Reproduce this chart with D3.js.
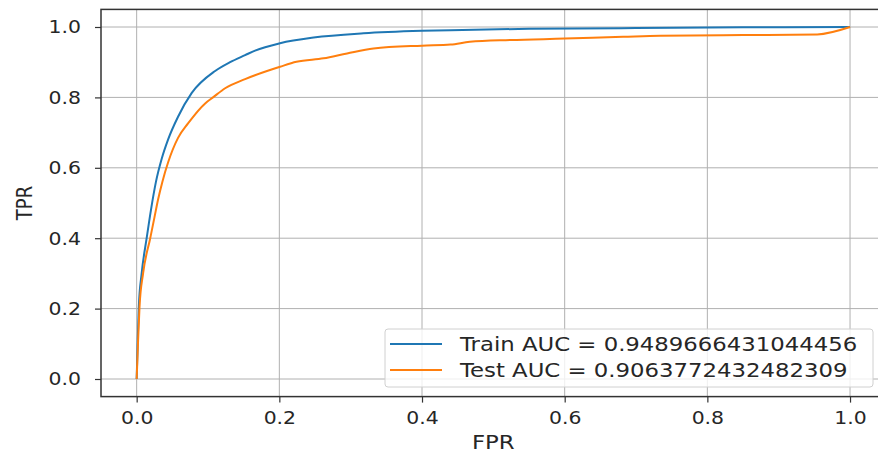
<!DOCTYPE html>
<html lang="en">
  <head>
    <meta charset="UTF-8" />
    <title>ROC Curve</title>
    <script src="https://d3js.org/d3.v7.min.js"></script>
    <style>
      body {
        margin: 0;
        background: #fff;
      }
      text {
        font-family: 'DejaVu Sans', sans-serif;
        fill: #262626;
      }
    </style>
  </head>
  <body>
    <div id="chart"></div>
    <script>
      // ROC points
      const trainFpr = [0, 0.0015, 0.003, 0.007, 0.014, 0.02, 0.027, 0.035, 0.044, 0.058, 0.077, 0.11, 0.131, 0.152, 0.166, 0.201, 0.248, 0.318, 0.4, 0.44, 0.55, 0.7, 0.85, 1.0];
      const trainTpr = [0, 0.11, 0.205, 0.3, 0.4, 0.48, 0.56, 0.625, 0.68, 0.745, 0.812, 0.875, 0.9, 0.92, 0.933, 0.954, 0.97, 0.982, 0.989, 0.991, 0.995, 0.997, 0.999, 1.0];

      const testFpr = [0, 0.002, 0.004, 0.009, 0.019, 0.025, 0.03, 0.036, 0.044, 0.058, 0.072, 0.096, 0.107, 0.124, 0.152, 0.201, 0.224, 0.262, 0.295, 0.332, 0.4, 0.44, 0.467, 0.524, 0.6, 0.682, 0.734, 0.85, 0.954, 1.0];
      const testTpr = [0, 0.11, 0.205, 0.3, 0.4, 0.46, 0.51, 0.56, 0.615, 0.685, 0.726, 0.783, 0.8, 0.826, 0.852, 0.887, 0.901, 0.911, 0.925, 0.939, 0.947, 0.95, 0.958, 0.963, 0.967, 0.972, 0.975, 0.977, 0.979, 1.0];

      const seriesNames = ['Train AUC = 0.9489666431044456', 'Test AUC = 0.9063772432482309'];
      const seriesColors = ['#1f77b4', '#ff7f0e'];
      const tickValues = [0, 0.2, 0.4, 0.6, 0.8, 1.0];

      const W = 878;
      const H = 453;
      const sx = 1.2; // picture is stretched sideways

      const svg = d3
        .select('#chart')
        .append('svg')
        .attr('width', W)
        .attr('height', H);

      svg.append('rect').attr('width', W).attr('height', H).attr('fill', '#fff');

      const x = d3.scaleLinear().domain([-0.05, 1.05]).range([101, 885.7]);
      const y = d3.scaleLinear().domain([-0.05, 1.05]).range([396.6, 9.4]);

      // grid
      const grid = svg.append('g').attr('stroke', '#b0b0b0').attr('stroke-width', 1);
      grid
        .selectAll('.gx')
        .data(tickValues)
        .enter()
        .append('line')
        .attr('x1', (d) => x(d))
        .attr('x2', (d) => x(d))
        .attr('y1', y.range()[0])
        .attr('y2', y.range()[1]);
      grid
        .selectAll('.gy')
        .data(tickValues)
        .enter()
        .append('line')
        .attr('x1', x.range()[0])
        .attr('x2', x.range()[1])
        .attr('y1', (d) => y(d))
        .attr('y2', (d) => y(d));

      // curves
      const line = d3
        .line()
        .curve(d3.curveMonotoneX)
        .x((d) => x(d[0]))
        .y((d) => y(d[1]));

      const series = [
        d3.zip(trainFpr, trainTpr),
        d3.zip(testFpr, testTpr)
      ];

      svg
        .selectAll('.roc')
        .data(series)
        .enter()
        .append('path')
        .attr('class', 'roc')
        .attr('d', line)
        .attr('fill', 'none')
        .attr('stroke', (d, i) => seriesColors[i])
        .attr('stroke-width', 2)
        .attr('stroke-linejoin', 'round');

      // axes
      const fmt = d3.format('.1f');
      const xAxis = svg
        .append('g')
        .attr('transform', `translate(0,${y.range()[0]})`)
        .call(d3.axisBottom(x).tickValues(tickValues).tickFormat(fmt).tickSize(6).tickSizeOuter(0));
      const yAxis = svg
        .append('g')
        .attr('transform', `translate(${x.range()[0]},0)`)
        .call(d3.axisLeft(y).tickValues(tickValues).tickFormat(fmt).tickSize(6).tickSizeOuter(0));

      [xAxis, yAxis].forEach((g) => {
        g.select('.domain').remove();
        g.selectAll('.tick line').attr('stroke', '#333').attr('stroke-width', 1.2);
        g.selectAll('text').attr('font-size', 17).attr('fill', '#444');
      });
      xAxis
        .selectAll('text')
        .attr('y', 0)
        .attr('dy', 0)
        .attr('transform', `translate(0,27) scale(${sx},1)`);
      yAxis
        .selectAll('text')
        .attr('x', 0)
        .attr('dy', '0.35em')
        .attr('transform', `translate(-20,0) scale(${sx},1)`);

      // spines
      const spines = svg.append('g').attr('stroke', '#333').attr('stroke-width', 1.5).attr('fill', 'none');
      spines.append('rect')
        .attr('x', x.range()[0])
        .attr('y', y.range()[1])
        .attr('width', x.range()[1] - x.range()[0])
        .attr('height', y.range()[0] - y.range()[1]);

      // axis titles
      svg
        .append('text')
        .attr('transform', `translate(${(x.range()[0] + x.range()[1]) / 2},449) scale(${sx},1)`)
        .attr('text-anchor', 'middle')
        .attr('font-size', 19)
        .text('FPR');
      svg
        .append('text')
        .attr('transform', `translate(32,${(y.range()[0] + y.range()[1]) / 2}) scale(${sx},1) rotate(-90)`)
        .attr('text-anchor', 'middle')
        .attr('font-size', 18)
        .text('TPR');

      // legend
      const legend = svg.append('g');
      legend
        .append('rect')
        .attr('x', 385)
        .attr('y', 329)
        .attr('width', 488)
        .attr('height', 58)
        .attr('rx', 3)
        .attr('fill', 'rgba(255,255,255,0.8)')
        .attr('stroke', '#d0d0d0');
      const items = legend
        .selectAll('.item')
        .data(seriesNames)
        .enter()
        .append('g')
        .attr('transform', (d, i) => `translate(0,${344 + i * 26})`);
      items
        .append('line')
        .attr('x1', 390)
        .attr('x2', 442)
        .attr('stroke', (d, i) => seriesColors[i])
        .attr('stroke-width', 2);
      items
        .append('text')
        .attr('transform', `translate(460,0) scale(${sx},1)`)
        .attr('dy', '0.35em')
        .attr('font-size', 19)
        .text((d) => d);
    </script>
  </body>
</html>
